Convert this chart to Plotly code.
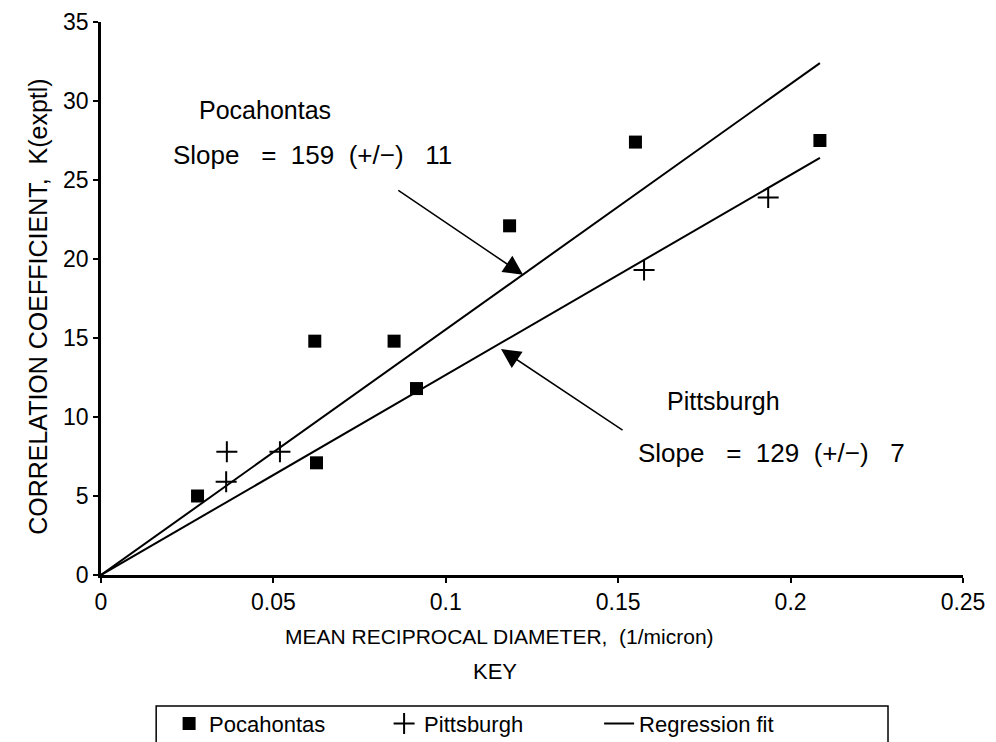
import plotly.graph_objects as go

# Data
poc_x = [0.028, 0.062, 0.0625, 0.085, 0.0915, 0.1185, 0.155, 0.2085]
poc_y = [5.0, 14.8, 7.1, 14.8, 11.8, 22.1, 27.4, 27.5]

pit_x = [0.0365, 0.0363, 0.0519, 0.1575, 0.1935]
pit_y = [7.8, 5.9, 7.8, 19.3, 23.9]

fit_poc_x = [0.0, 0.2085]
fit_poc_y = [0.0, 32.4]
fit_pit_x = [0.0, 0.2085]
fit_pit_y = [0.0, 26.4]

x_ticks = [0, 0.05, 0.1, 0.15, 0.2, 0.25]
x_ticklabels = ["0", "0.05", "0.1", "0.15", "0.2", "0.25"]
y_ticks = [0, 5, 10, 15, 20, 25, 30, 35]

FONT = "Liberation Sans"

fig = go.Figure()
fig.add_trace(go.Scatter(x=poc_x, y=poc_y, mode="markers", name="Pocahontas",
                         marker=dict(symbol="square", size=13, color="black",
                                     line=dict(width=0))))
fig.add_trace(go.Scatter(x=pit_x, y=pit_y, mode="markers", name="Pittsburgh",
                         marker=dict(symbol="cross-thin-open", size=15, color="black",
                                     line=dict(width=2, color="black"))))
fig.add_trace(go.Scatter(x=fit_poc_x, y=fit_poc_y, mode="lines", name="Regression fit",
                         line=dict(color="black", width=2)))
fig.add_trace(go.Scatter(x=fit_pit_x, y=fit_pit_y, mode="lines", name="Regression fit",
                         showlegend=False, line=dict(color="black", width=2)))

tf = dict(family=FONT, size=25, color="black")
sf = dict(family=FONT, size=26, color="black")
ann = []
# Pocahontas text and arrow
ann.append(dict(x=0.0475, y=29.4, xref="x", yref="y", text="Pocahontas",
                showarrow=False, font=tf))
ann.append(dict(x=0.0612, y=26.6, xref="x", yref="y",
                text="Slope&nbsp;&nbsp; = &nbsp;159&nbsp; (+/−)&nbsp;&nbsp; 11",
                showarrow=False, font=sf))
ann.append(dict(x=0.1224, y=19.0, ax=0.0858, ay=24.4, xref="x", yref="y",
                axref="x", ayref="y", text="", showarrow=True, arrowhead=2,
                arrowsize=2.6, arrowwidth=1.5, arrowcolor="black"))
# Pittsburgh text and arrow
ann.append(dict(x=0.1805, y=11.0, xref="x", yref="y", text="Pittsburgh",
                showarrow=False, font=tf))
ann.append(dict(x=0.1945, y=7.7, xref="x", yref="y",
                text="Slope&nbsp;&nbsp; = &nbsp;129&nbsp; (+/−)&nbsp;&nbsp; 7",
                showarrow=False, font=sf))
ann.append(dict(x=0.116, y=14.3, ax=0.1517, ay=9.1, xref="x", yref="y",
                axref="x", ayref="y", text="", showarrow=True, arrowhead=2,
                arrowsize=2.6, arrowwidth=1.5, arrowcolor="black"))
# x-axis title
ann.append(dict(x=0.462, y=-0.136, xref="paper", yref="paper",
                text="MEAN RECIPROCAL DIAMETER,&nbsp; (1/micron)",
                showarrow=False, font=dict(family=FONT, size=21, color="black")))
# y-axis title
ann.append(dict(x=-0.073, y=0.485, xref="paper", yref="paper", textangle=-90,
                xanchor="center", yanchor="middle",
                text="CORRELATION COEFFICIENT,&nbsp; K(exptl)",
                showarrow=False, font=dict(family=FONT, size=25, color="black")))
# KEY
ann.append(dict(x=0.457, y=-0.201, xref="paper", yref="paper", text="KEY",
                showarrow=False, font=dict(family=FONT, size=22, color="black")))

fig.update_layout(
    width=996, height=742,
    margin=dict(l=93, r=41, t=14, b=175, autoexpand=False),
    paper_bgcolor="white", plot_bgcolor="white",
    font=dict(family=FONT, color="black"),
    annotations=ann,
    showlegend=True,
    legend=dict(orientation="h", x=0.079, xanchor="left", y=-0.231, yanchor="top",
                entrywidth=170, entrywidthmode="pixels",
                font=dict(family=FONT, size=22, color="black"),
                bgcolor="rgba(0,0,0,0)"),
    shapes=[dict(type="rect", xref="paper", yref="paper", x0=0.064, x1=0.913,
                 y0=-0.36, y1=-0.237, line=dict(color="black", width=1.5))],
    xaxis=dict(range=[0, 0.25], tickvals=x_ticks, ticktext=x_ticklabels,
               showgrid=False, zeroline=False, showline=True, linecolor="black",
               linewidth=2.5, ticks="outside", ticklen=5, tickwidth=1.5,
               tickcolor="black", tickfont=dict(family=FONT, size=23),
               automargin=False, ticklabeloverflow="allow"),
    yaxis=dict(range=[0, 35], tickvals=y_ticks,
               showgrid=False, zeroline=False, showline=True, linecolor="black",
               linewidth=2.5, ticks="outside", ticklen=5, tickwidth=1.5,
               tickcolor="black", tickfont=dict(family=FONT, size=23),
               automargin=False, ticklabeloverflow="allow"),
)

fig.write_html("out.html")
